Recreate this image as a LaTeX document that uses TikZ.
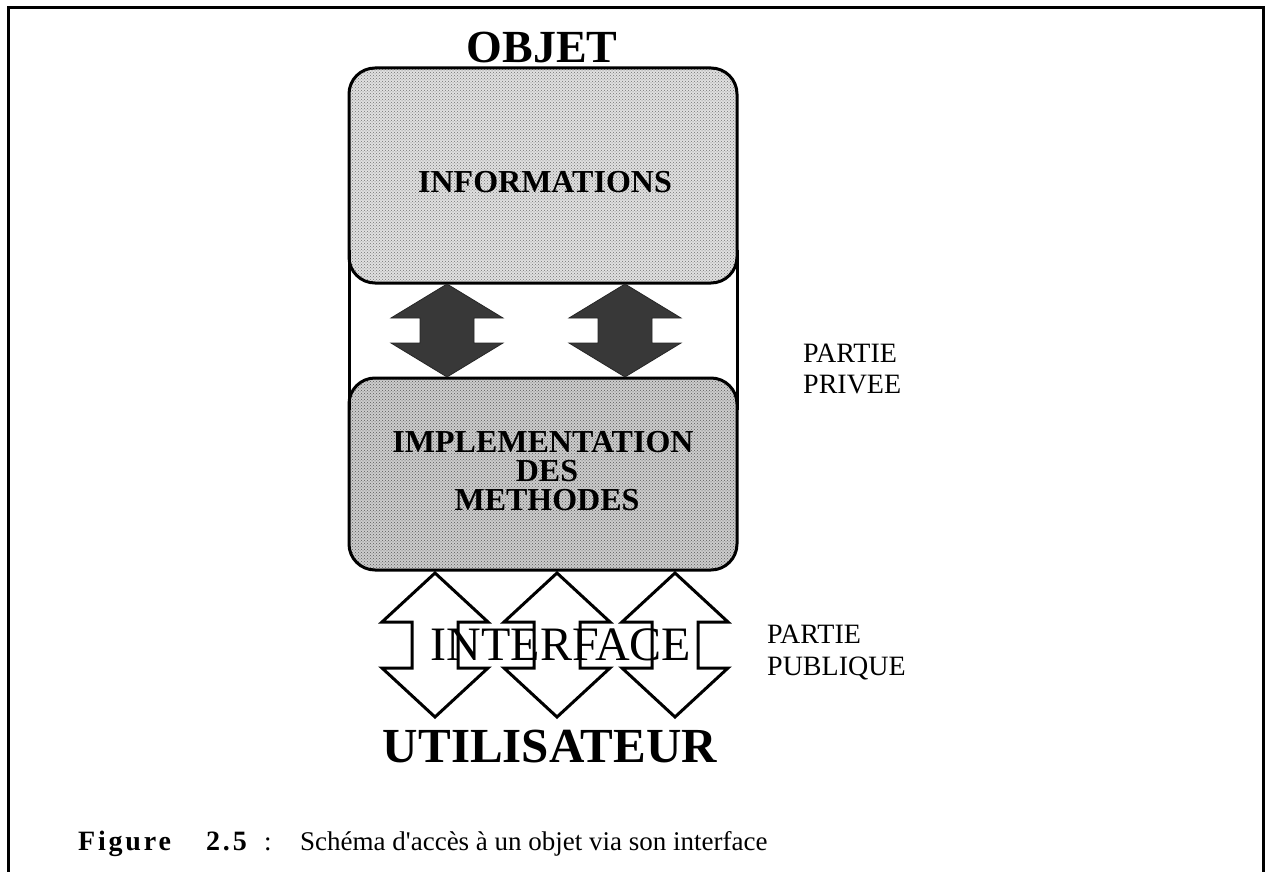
\documentclass[tikz,border=0pt]{standalone}
\usepackage{fontspec}
\setmainfont{Liberation Serif}
\usetikzlibrary{patterns}
\begin{document}
\begin{tikzpicture}[x=1pt,y=-1pt,
  frameline/.style={line width=3pt},
  boxline/.style={line width=3pt, rounded corners=26pt},
  lightshade/.style={fill=black!12, postaction={pattern=crosshatch dots, pattern color=black!55}},
  midshade/.style={fill=black!20, postaction={pattern=crosshatch dots, pattern color=black!65}},
  darkarrow/.style={fill=black!78, draw=black!85, line width=0.8pt, line join=miter},
  whitearrow/.style={fill=white, draw=black, line width=3pt, line join=miter},
  title/.style={font=\fontsize{46}{46}\selectfont\bfseries, anchor=base, inner sep=0pt},
  boxtext/.style={font=\fontsize{32}{32}\selectfont\bfseries, anchor=base, inner sep=0pt},
  sidetext/.style={font=\fontsize{28}{28}\selectfont, anchor=base west, inner sep=0pt},
  captext/.style={font=\fontsize{27}{27}\selectfont, anchor=base west, inner sep=0pt},
  capbold/.style={font=\fontsize{28}{28}\selectfont\bfseries\addfontfeature{LetterSpace=10}, anchor=base west, inner sep=0pt}]
\useasboundingbox (0,0) rectangle (1270,872);
\fill[white] (0,0) rectangle (1270,872);

% open frame (no bottom edge)
\draw[frameline] (8,872) -- (8,8) -- (1263,8) -- (1263,872);

% object body: information part and method part
\path[lightshade, rounded corners=26pt] (349,68) rectangle (737,283);
\path[midshade, rounded corners=26pt] (349,378) rectangle (737,570);
\draw[boxline] (349,68) rectangle (737,283);
\draw[boxline] (349,378) rectangle (737,570);
\draw[line width=3pt] (349,250) -- (349,410);
\draw[line width=3pt] (737,250) -- (737,410);

\node[title] (objet) at (542,63) {OBJET};
\node[boxtext] (info) at (545,193) {INFORMATIONS};
\node[boxtext] (impl1) at (543,452) {IMPLEMENTATION};
\node[boxtext] (impl2) at (547,481) {DES};
\node[boxtext] (impl3) at (547,510) {METHODES};

% private double arrows between the two parts
\foreach \cx in {447,625}{
  \draw[darkarrow] (\cx,284) -- (\cx+56,318) -- (\cx+27,318) -- (\cx+27,343)
    -- (\cx+56,343) -- (\cx,377) -- (\cx-56,343) -- (\cx-27,343)
    -- (\cx-27,318) -- (\cx-56,318) -- cycle;
}

% public interface arrows
\foreach \cx in {435,557,675}{
  \draw[whitearrow] (\cx,573) -- (\cx+53,622) -- (\cx+23,622) -- (\cx+23,668)
    -- (\cx+53,668) -- (\cx,717) -- (\cx-53,668) -- (\cx-23,668)
    -- (\cx-23,622) -- (\cx-53,622) -- cycle;
}
\node[font=\fontsize{48}{48}\selectfont, anchor=base, inner sep=0pt] (iface) at (561,660) {INTERFACE};

\node[title, font=\fontsize{49}{49}\selectfont\bfseries] (user) at (550,762) {UTILISATEUR};

\node[sidetext] (priv1) at (803,362) {PARTIE};
\node[sidetext] (priv2) at (803,393) {PRIVEE};
\node[sidetext] (pub1) at (767,643) {PARTIE};
\node[sidetext] (pub2) at (767,675) {PUBLIQUE};

\node[capbold] (fig) at (78,850) {Figure};
\node[capbold] (num) at (206,850) {2.5};
\node[captext] (colon) at (264,850) {:};
\node[captext] (cap) at (300,850) {Schéma d\textquotesingle accès à un objet via son interface};
\end{tikzpicture}
\end{document}
